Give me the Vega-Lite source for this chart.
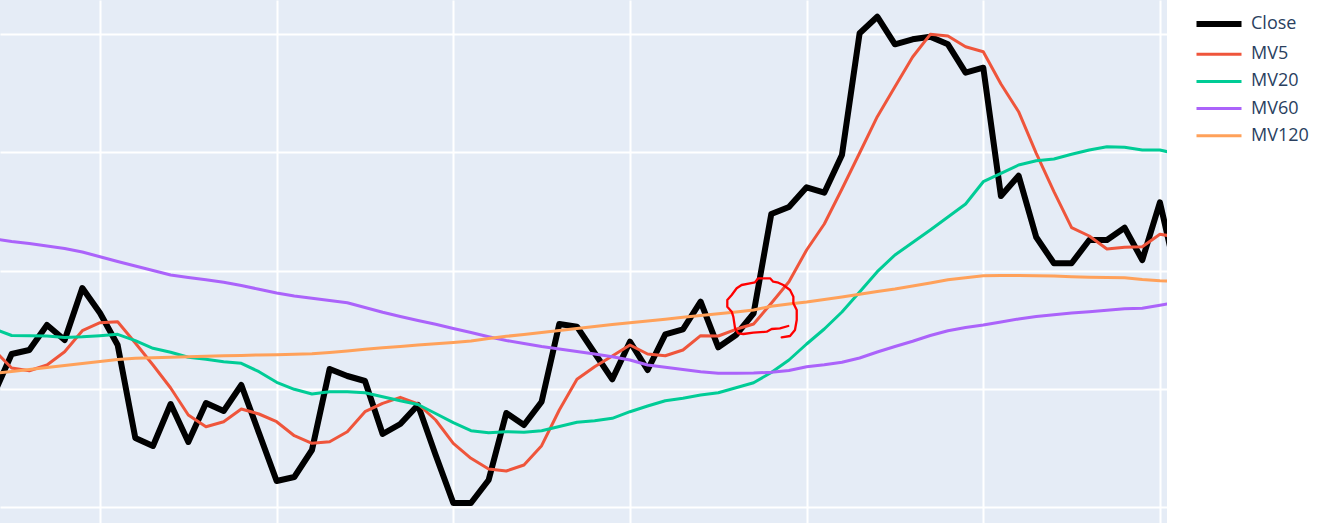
{
  "$schema": "https://vega.github.io/schema/vega-lite/v6.json",
  "width": 1167,
  "height": 523,
  "autosize": {"type": "pad"},
  "padding": 0,
  "background": "white",
  "config": {
    "view": {"fill": "#E5ECF6", "stroke": null},
    "font": "Open Sans",
    "axis": {"labels": false, "ticks": false, "domain": false, "title": null, "grid": true, "gridColor": "#ffffff", "gridWidth": 2, "gridOpacity": 1}
  },
  "datasets": {
    "prices": [
      {"i":4,"Close":129,"MV5":173,"MV20":194,"MV60":284,"MV120":149.5},
      {"i":5,"Close":169,"MV5":155,"MV20":187.5,"MV60":281.5,"MV120":151.5},
      {"i":6,"Close":173,"MV5":152.3,"MV20":187.3,"MV60":279.5,"MV120":153.5},
      {"i":7,"Close":198,"MV5":158,"MV20":187,"MV60":277,"MV120":155.5},
      {"i":8,"Close":183,"MV5":171.3,"MV20":185.5,"MV60":274.5,"MV120":157.5},
      {"i":9,"Close":235,"MV5":192.3,"MV20":186.2,"MV60":271,"MV120":159.5},
      {"i":10,"Close":210,"MV5":200.3,"MV20":187.3,"MV60":266.3,"MV120":161.5},
      {"i":11,"Close":178,"MV5":201.3,"MV20":188.7,"MV60":261.5,"MV120":163.5},
      {"i":12,"Close":85,"MV5":180,"MV20":182.3,"MV60":257,"MV120":164.7},
      {"i":13,"Close":77,"MV5":158,"MV20":174.7,"MV60":252.5,"MV120":165.3},
      {"i":14,"Close":119,"MV5":135,"MV20":170.7,"MV60":248,"MV120":165.8},
      {"i":15,"Close":81,"MV5":108,"MV20":165.7,"MV60":245.5,"MV120":166.3},
      {"i":16,"Close":120,"MV5":96.3,"MV20":163.7,"MV60":243.3,"MV120":166.8},
      {"i":17,"Close":112,"MV5":101.3,"MV20":161.3,"MV60":240.7,"MV120":167.2},
      {"i":18,"Close":138,"MV5":114,"MV20":159.7,"MV60":237.5,"MV120":167.6},
      {"i":19,"Close":90,"MV5":109,"MV20":151.3,"MV60":233.7,"MV120":168},
      {"i":20,"Close":42,"MV5":101.3,"MV20":140.7,"MV60":230,"MV120":168.3},
      {"i":21,"Close":46,"MV5":87.3,"MV20":133.7,"MV60":227,"MV120":168.7},
      {"i":22,"Close":73,"MV5":79.7,"MV20":129,"MV60":224.7,"MV120":169.3},
      {"i":23,"Close":154,"MV5":81.3,"MV20":131.3,"MV60":222.5,"MV120":170.5},
      {"i":24,"Close":147,"MV5":91.3,"MV20":131.3,"MV60":220.2,"MV120":172},
      {"i":25,"Close":142,"MV5":111.3,"MV20":130.3,"MV60":215.5,"MV120":173.7},
      {"i":26,"Close":89,"MV5":119.7,"MV20":126.3,"MV60":210.7,"MV120":175.3},
      {"i":27,"Close":99,"MV5":125.7,"MV20":122.3,"MV60":206.5,"MV120":176.5},
      {"i":28,"Close":118,"MV5":119,"MV20":118.5,"MV60":202.5,"MV120":178},
      {"i":29,"Close":68,"MV5":103,"MV20":109.5,"MV60":198.7,"MV120":179.3},
      {"i":30,"Close":20,"MV5":79.7,"MV20":100.3,"MV60":194.5,"MV120":180.5},
      {"i":31,"Close":20,"MV5":64.7,"MV20":92.3,"MV60":190.5,"MV120":182},
      {"i":32,"Close":43,"MV5":54,"MV20":90.3,"MV60":186.3,"MV120":184.5},
      {"i":33,"Close":110,"MV5":52,"MV20":91.3,"MV60":182.5,"MV120":186.7},
      {"i":34,"Close":98,"MV5":58,"MV20":90.7,"MV60":179.5,"MV120":188.5},
      {"i":35,"Close":121.3,"MV5":77.3,"MV20":92.3,"MV60":176.5,"MV120":190.5},
      {"i":36,"Close":199,"MV5":113,"MV20":96.5,"MV60":174,"MV120":192.5},
      {"i":37,"Close":196.3,"MV5":143.7,"MV20":100.7,"MV60":171.5,"MV120":194.5},
      {"i":38,"Close":170,"MV5":156.3,"MV20":102.3,"MV60":169,"MV120":196.5},
      {"i":39,"Close":143.7,"MV5":167,"MV20":104.7,"MV60":166.3,"MV120":198.5},
      {"i":40,"Close":181.3,"MV5":178,"MV20":111.3,"MV60":163,"MV120":200.3},
      {"i":41,"Close":153,"MV5":169,"MV20":117,"MV60":158,"MV120":202},
      {"i":42,"Close":188.7,"MV5":167.3,"MV20":122.3,"MV60":155.7,"MV120":203.8},
      {"i":43,"Close":193.7,"MV5":173,"MV20":124.7,"MV60":153.5,"MV120":205.7},
      {"i":44,"Close":221.3,"MV5":187.3,"MV20":128,"MV60":151.3,"MV120":207.5},
      {"i":45,"Close":175.7,"MV5":187,"MV20":130.3,"MV60":149.7,"MV120":209.2},
      {"i":46,"Close":188,"MV5":193.7,"MV20":135.3,"MV60":149.7,"MV120":211},
      {"i":47,"Close":209.7,"MV5":199,"MV20":140.3,"MV60":150,"MV120":213},
      {"i":48,"Close":309,"MV5":219.7,"MV20":150.5,"MV60":150.7,"MV120":216.7},
      {"i":49,"Close":316,"MV5":241.3,"MV20":163,"MV60":152.5,"MV120":219},
      {"i":50,"Close":335.7,"MV5":273,"MV20":179,"MV60":156.3,"MV120":221},
      {"i":51,"Close":330.3,"MV5":299,"MV20":194,"MV60":158.3,"MV120":223.5},
      {"i":52,"Close":368,"MV5":334,"MV20":211,"MV60":160.7,"MV120":226},
      {"i":53,"Close":489.7,"MV5":370,"MV20":231,"MV60":165,"MV120":228.7},
      {"i":54,"Close":506.3,"MV5":406.3,"MV20":251.3,"MV60":171,"MV120":231.5},
      {"i":55,"Close":478.7,"MV5":436.3,"MV20":268,"MV60":176.5,"MV120":234},
      {"i":56,"Close":483.7,"MV5":466,"MV20":280.5,"MV60":181.7,"MV120":237},
      {"i":57,"Close":486.3,"MV5":488.7,"MV20":293,"MV60":187.5,"MV120":240},
      {"i":58,"Close":478.7,"MV5":487,"MV20":306,"MV60":192.3,"MV120":243.2},
      {"i":59,"Close":450.3,"MV5":476.3,"MV20":319,"MV60":195.5,"MV120":245.3},
      {"i":60,"Close":455.3,"MV5":471.3,"MV20":341.3,"MV60":198,"MV120":247.3},
      {"i":61,"Close":327,"MV5":439,"MV20":349.7,"MV60":201,"MV120":247.5},
      {"i":62,"Close":347.3,"MV5":411.3,"MV20":358,"MV60":204,"MV120":247.5},
      {"i":63,"Close":285.7,"MV5":369.7,"MV20":362.3,"MV60":206.5,"MV120":247.3},
      {"i":64,"Close":259.7,"MV5":331.3,"MV20":364,"MV60":208.3,"MV120":247},
      {"i":65,"Close":259.7,"MV5":295.3,"MV20":368.7,"MV60":210,"MV120":246.3},
      {"i":66,"Close":283,"MV5":287,"MV20":373,"MV60":211.3,"MV120":245.8},
      {"i":67,"Close":283,"MV5":274,"MV20":376.3,"MV60":212.7,"MV120":245.5},
      {"i":68,"Close":295.3,"MV5":275.7,"MV20":375.7,"MV60":214.3,"MV120":245.3},
      {"i":69,"Close":263,"MV5":276.3,"MV20":373,"MV60":214.8,"MV120":243.5},
      {"i":70,"Close":320.7,"MV5":288.7,"MV20":373,"MV60":217.7,"MV120":242.3},
      {"i":71,"Close":243,"MV5":286,"MV20":369,"MV60":221,"MV120":241.5}
    ],
    "scribble": [
      {"k":0,"i":48.96,"value":197},
      {"k":1,"i":48.49,"value":194.7},
      {"k":2,"i":48.02,"value":194},
      {"k":3,"i":47.74,"value":191.3},
      {"k":4,"i":46.98,"value":190.3},
      {"k":5,"i":46.42,"value":189},
      {"k":6,"i":46.13,"value":189.7},
      {"k":7,"i":45.95,"value":194.7},
      {"k":8,"i":45.85,"value":206.3},
      {"k":9,"i":45.76,"value":211.3},
      {"k":10,"i":45.51,"value":216.3},
      {"k":11,"i":45.51,"value":223},
      {"k":12,"i":45.76,"value":228},
      {"k":13,"i":46.04,"value":234.7},
      {"k":14,"i":46.32,"value":238},
      {"k":15,"i":46.79,"value":239.7},
      {"k":16,"i":47.08,"value":240.7},
      {"k":17,"i":47.26,"value":244.7},
      {"k":18,"i":47.93,"value":244.7},
      {"k":19,"i":48.11,"value":241.3},
      {"k":20,"i":48.4,"value":240.3},
      {"k":21,"i":48.68,"value":238},
      {"k":22,"i":49.06,"value":233},
      {"k":23,"i":49.25,"value":226.3},
      {"k":24,"i":49.25,"value":219.7},
      {"k":25,"i":49.44,"value":213},
      {"k":26,"i":49.44,"value":203},
      {"k":27,"i":49.34,"value":193},
      {"k":28,"i":49.06,"value":187},
      {"k":29,"i":48.59,"value":185.7}
    ]
  },
  "layer": [
    {
      "data": {"name": "prices"},
      "transform": [{"fold": ["Close", "MV5", "MV20", "MV60", "MV120"], "as": ["series", "value"]}],
      "mark": {"type": "line", "clip": true, "strokeJoin": "round"},
      "encoding": {
        "x": {"field": "i", "type": "quantitative", "scale": {"domain": [4.34, 70.4], "nice": false, "zero": false}, "axis": {"values": [10, 20, 30, 40, 50, 60, 70]}},
        "y": {"field": "value", "type": "quantitative", "scale": {"domain": [0, 523], "nice": false, "zero": false}, "axis": {"values": [16, 134.25, 252.5, 370.75, 489]}},
        "color": {
          "field": "series", "type": "nominal",
          "scale": {"domain": ["Close", "MV5", "MV20", "MV60", "MV120"], "range": ["#000000", "#EF553B", "#00CC96", "#AB63FA", "#FFA15A"]},
          "legend": {
            "title": null, "orient": "none", "legendX": 1210, "legendY": 15,
            "symbolType": "stroke", "symbolSize": 2025, "symbolStrokeWidth": 3,
            "labelFontSize": 18, "labelFont": "Open Sans", "labelColor": "#2a3f5f", "labelOffset": 23, "rowPadding": 9.2,
            "encode": {"symbols": {"update": {"strokeWidth": {"signal": "datum.value === 'Close' ? 6 : 3"}}}}
          }
        },
        "strokeWidth": {"condition": {"test": "datum.series === 'Close'", "value": 6}, "value": 3}
      }
    },
    {
      "data": {"name": "scribble"},
      "mark": {"type": "line", "clip": true, "color": "#FF0000", "strokeWidth": 2.3, "strokeJoin": "round", "strokeCap": "round"},
      "encoding": {
        "x": {"field": "i", "type": "quantitative", "scale": {"domain": [4.34, 70.4], "nice": false, "zero": false}},
        "y": {"field": "value", "type": "quantitative", "scale": {"domain": [0, 523], "nice": false, "zero": false}},
        "order": {"field": "k", "type": "quantitative"}
      }
    }
  ]
}
